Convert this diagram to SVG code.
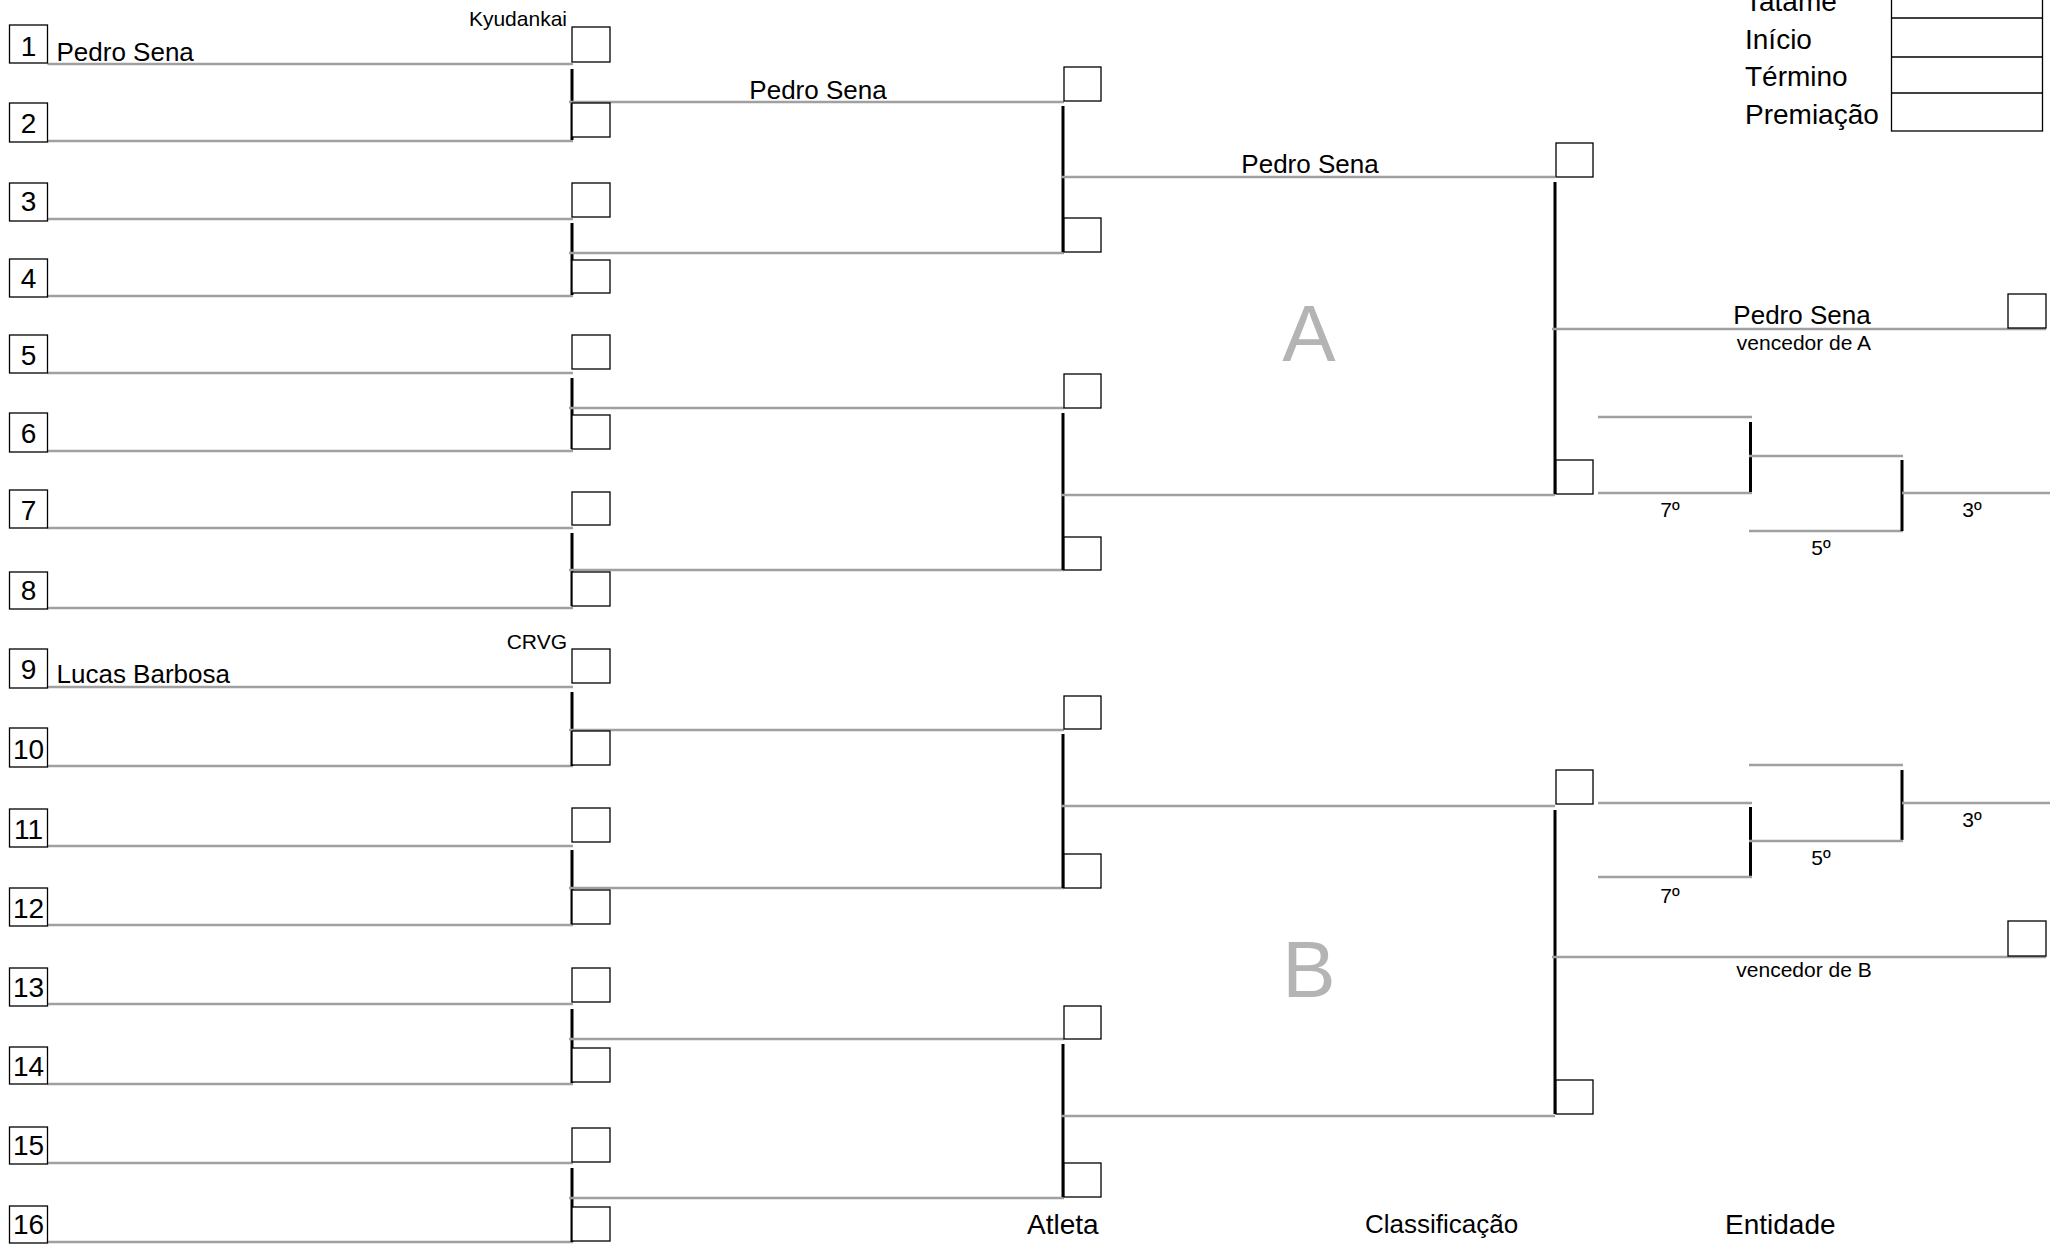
<svg xmlns="http://www.w3.org/2000/svg" width="2058" height="1244" viewBox="0 0 2058 1244">
<style>
text{font-family:"Liberation Sans",Arial,sans-serif;fill:#000}
.bx{fill:#fff;stroke:#000;stroke-width:1.3}
.g{stroke:#a0a0a0;stroke-width:2.5;fill:none}
.k{stroke:#000;stroke-width:3;fill:none}
.num{font-size:28px;text-anchor:middle}
.nm{font-size:26px}
.cl{font-size:21px;text-anchor:end}
.pl{font-size:21px;text-anchor:middle}
.big{font-size:80px;fill:#b4b4b4;text-anchor:middle}
.hd{font-size:28px}
</style>
<rect width="2058" height="1244" fill="#fff"/>

<g id="header">
<text class="hd" x="1745" y="11">Tatame</text>
<text class="hd" x="1745" y="48.5">Início</text>
<text class="hd" x="1745" y="86">Término</text>
<text class="hd" x="1745" y="124">Premiação</text>
<rect class="bx" x="1891.5" y="-20" width="151" height="151"/>
<line x1="1891.5" y1="18" x2="2042.5" y2="18" stroke="#000" stroke-width="1.3"/>
<line x1="1891.5" y1="57" x2="2042.5" y2="57" stroke="#000" stroke-width="1.3"/>
<line x1="1891.5" y1="93" x2="2042.5" y2="93" stroke="#000" stroke-width="1.3"/>
</g>

<g id="connectors">
<!-- round 1 lines -->
<line class="g" x1="47.5" y1="64" x2="573" y2="64"/>
<line class="g" x1="47.5" y1="141" x2="573" y2="141"/>
<line class="g" x1="47.5" y1="219" x2="573" y2="219"/>
<line class="g" x1="47.5" y1="296" x2="573" y2="296"/>
<line class="g" x1="47.5" y1="373" x2="573" y2="373"/>
<line class="g" x1="47.5" y1="451" x2="573" y2="451"/>
<line class="g" x1="47.5" y1="528" x2="573" y2="528"/>
<line class="g" x1="47.5" y1="608" x2="573" y2="608"/>
<line class="g" x1="47.5" y1="687" x2="573" y2="687"/>
<line class="g" x1="47.5" y1="766" x2="573" y2="766"/>
<line class="g" x1="47.5" y1="846" x2="573" y2="846"/>
<line class="g" x1="47.5" y1="925" x2="573" y2="925"/>
<line class="g" x1="47.5" y1="1004" x2="573" y2="1004"/>
<line class="g" x1="47.5" y1="1084" x2="573" y2="1084"/>
<line class="g" x1="47.5" y1="1163" x2="573" y2="1163"/>
<line class="g" x1="47.5" y1="1242" x2="573" y2="1242"/>
<!-- round 1 verticals -->
<line class="k" x1="572" y1="69" x2="572" y2="140"/>
<line class="k" x1="572" y1="223" x2="572" y2="295"/>
<line class="k" x1="572" y1="378" x2="572" y2="449"/>
<line class="k" x1="572" y1="533" x2="572" y2="606"/>
<line class="k" x1="572" y1="692" x2="572" y2="766"/>
<line class="k" x1="572" y1="850" x2="572" y2="924"/>
<line class="k" x1="572" y1="1009" x2="572" y2="1083"/>
<line class="k" x1="572" y1="1168" x2="572" y2="1242"/>
<!-- round 2 lines -->
<line class="g" x1="569" y1="102" x2="1064" y2="102"/>
<line class="g" x1="569" y1="253" x2="1064" y2="253"/>
<line class="g" x1="569" y1="408" x2="1064" y2="408"/>
<line class="g" x1="569" y1="570" x2="1064" y2="570"/>
<line class="g" x1="569" y1="730" x2="1064" y2="730"/>
<line class="g" x1="569" y1="888" x2="1064" y2="888"/>
<line class="g" x1="569" y1="1039" x2="1064" y2="1039"/>
<line class="g" x1="569" y1="1198" x2="1064" y2="1198"/>
<!-- round 2 verticals -->
<line class="k" x1="1063" y1="106" x2="1063" y2="252"/>
<line class="k" x1="1063" y1="413" x2="1063" y2="570"/>
<line class="k" x1="1063" y1="734" x2="1063" y2="888"/>
<line class="k" x1="1063" y1="1044" x2="1063" y2="1197"/>
<!-- round 3 lines -->
<line class="g" x1="1061" y1="177" x2="1555" y2="177"/>
<line class="g" x1="1061" y1="495" x2="1555" y2="495"/>
<line class="g" x1="1061" y1="806" x2="1555" y2="806"/>
<line class="g" x1="1061" y1="1116" x2="1555" y2="1116"/>
<!-- round 3 verticals -->
<line class="k" x1="1555" y1="182" x2="1555" y2="494"/>
<line class="k" x1="1555" y1="810" x2="1555" y2="1114"/>
<!-- finals -->
<line class="g" x1="1552" y1="329" x2="2046" y2="329"/>
<line class="g" x1="1552" y1="957" x2="2046" y2="957"/>
<!-- repechage A -->
<line class="g" x1="1598" y1="417" x2="1752" y2="417"/>
<line class="g" x1="1598" y1="493" x2="1752" y2="493"/>
<line class="k" x1="1750.5" y1="422" x2="1750.5" y2="492"/>
<line class="g" x1="1749" y1="456" x2="1903" y2="456"/>
<line class="g" x1="1749" y1="531" x2="1903" y2="531"/>
<line class="k" x1="1902" y1="460" x2="1902" y2="531"/>
<line class="g" x1="1902" y1="493" x2="2050" y2="493"/>
<!-- repechage B -->
<line class="g" x1="1749" y1="765" x2="1903" y2="765"/>
<line class="k" x1="1902" y1="770" x2="1902" y2="840"/>
<line class="g" x1="1902" y1="803" x2="2050" y2="803"/>
<line class="g" x1="1598" y1="803" x2="1752" y2="803"/>
<line class="k" x1="1750.5" y1="807" x2="1750.5" y2="877"/>
<line class="g" x1="1749" y1="841" x2="1903" y2="841"/>
<line class="g" x1="1598" y1="877" x2="1752" y2="877"/>
</g>

<g id="entries">
<g id="e1"><rect class="bx" x="9.5" y="25" width="38" height="38"/><text class="num" x="28.5" y="56">1</text></g>
<g id="e2"><rect class="bx" x="9.5" y="103" width="38" height="39"/><text class="num" x="28.5" y="133">2</text></g>
<g id="e3"><rect class="bx" x="9.5" y="183" width="38" height="38"/><text class="num" x="28.5" y="211">3</text></g>
<g id="e4"><rect class="bx" x="9.5" y="259" width="38" height="38"/><text class="num" x="28.5" y="288">4</text></g>
<g id="e5"><rect class="bx" x="9.5" y="335" width="38" height="38"/><text class="num" x="28.5" y="365">5</text></g>
<g id="e6"><rect class="bx" x="9.5" y="413" width="38" height="39"/><text class="num" x="28.5" y="443">6</text></g>
<g id="e7"><rect class="bx" x="9.5" y="490" width="38" height="38"/><text class="num" x="28.5" y="520">7</text></g>
<g id="e8"><rect class="bx" x="9.5" y="572" width="38" height="37"/><text class="num" x="28.5" y="600">8</text></g>
<g id="e9"><rect class="bx" x="9.5" y="649" width="38" height="39"/><text class="num" x="28.5" y="679">9</text></g>
<g id="e10"><rect class="bx" x="9.5" y="728" width="38" height="39"/><text class="num" x="28.5" y="759">10</text></g>
<g id="e11"><rect class="bx" x="9.5" y="809" width="38" height="38"/><text class="num" x="28.5" y="839">11</text></g>
<g id="e12"><rect class="bx" x="9.5" y="888" width="38" height="38"/><text class="num" x="28.5" y="918">12</text></g>
<g id="e13"><rect class="bx" x="9.5" y="968" width="38" height="38"/><text class="num" x="28.5" y="997">13</text></g>
<g id="e14"><rect class="bx" x="9.5" y="1047" width="38" height="37"/><text class="num" x="28.5" y="1076">14</text></g>
<g id="e15"><rect class="bx" x="9.5" y="1127" width="38" height="37"/><text class="num" x="28.5" y="1155">15</text></g>
<g id="e16"><rect class="bx" x="9.5" y="1206" width="38" height="37"/><text class="num" x="28.5" y="1234">16</text></g>
</g>

<g id="names">
<text class="nm" x="56.5" y="61">Pedro Sena</text>
<text class="cl" x="567" y="26">Kyudankai</text>
<text class="nm" x="56.5" y="683">Lucas Barbosa</text>
<text class="cl" x="567" y="649">CRVG</text>
<text class="nm" x="818" y="99" text-anchor="middle">Pedro Sena</text>
<text class="nm" x="1310" y="173" text-anchor="middle">Pedro Sena</text>
<text class="nm" x="1802" y="324" text-anchor="middle">Pedro Sena</text>
<text class="pl" x="1804" y="350">vencedor de A</text>
<text class="pl" x="1804" y="977">vencedor de B</text>
<text class="pl" x="1670" y="517">7º</text>
<text class="pl" x="1821" y="555">5º</text>
<text class="pl" x="1972" y="517">3º</text>
<text class="pl" x="1972" y="827">3º</text>
<text class="pl" x="1821" y="865">5º</text>
<text class="pl" x="1670" y="903">7º</text>
<text class="big" x="1309" y="361">A</text>
<text class="big" x="1309" y="997">B</text>
</g>

<g id="score-boxes-r1">
<rect class="bx" x="572" y="27" width="38" height="35"/>
<rect class="bx" x="572" y="103" width="38" height="34"/>
<rect class="bx" x="572" y="183" width="38" height="34"/>
<rect class="bx" x="572" y="260" width="38" height="33"/>
<rect class="bx" x="572" y="335" width="38" height="34"/>
<rect class="bx" x="572" y="415" width="38" height="34"/>
<rect class="bx" x="572" y="492" width="38" height="33"/>
<rect class="bx" x="572" y="572" width="38" height="34"/>
<rect class="bx" x="572" y="649" width="38" height="34"/>
<rect class="bx" x="572" y="731" width="38" height="34"/>
<rect class="bx" x="572" y="808" width="38" height="34"/>
<rect class="bx" x="572" y="890" width="38" height="34"/>
<rect class="bx" x="572" y="968" width="38" height="34"/>
<rect class="bx" x="572" y="1048" width="38" height="34"/>
<rect class="bx" x="572" y="1128" width="38" height="34"/>
<rect class="bx" x="572" y="1207" width="38" height="34"/>
</g>
<g id="score-boxes-r2">
<rect class="bx" x="1064" y="67" width="37" height="34"/>
<rect class="bx" x="1064" y="218" width="37" height="34"/>
<rect class="bx" x="1064" y="374" width="37" height="34"/>
<rect class="bx" x="1064" y="537" width="37" height="33"/>
<rect class="bx" x="1064" y="696" width="37" height="33"/>
<rect class="bx" x="1064" y="854" width="37" height="34"/>
<rect class="bx" x="1064" y="1006" width="37" height="33"/>
<rect class="bx" x="1064" y="1163" width="37" height="34"/>
</g>
<g id="score-boxes-r3">
<rect class="bx" x="1556" y="143" width="37" height="34"/>
<rect class="bx" x="1556" y="460" width="37" height="34"/>
<rect class="bx" x="1556" y="770" width="37" height="34"/>
<rect class="bx" x="1556" y="1080" width="37" height="34"/>
</g>
<g id="score-boxes-final">
<rect class="bx" x="2008" y="294" width="38" height="34"/>
<rect class="bx" x="2008" y="921" width="38" height="35"/>
</g>

<g id="footer">
<text x="1027" y="1234" font-size="28">Atleta</text>
<text x="1365" y="1233" font-size="26">Classificação</text>
<text x="1725" y="1234" font-size="28">Entidade</text>
</g>
</svg>
